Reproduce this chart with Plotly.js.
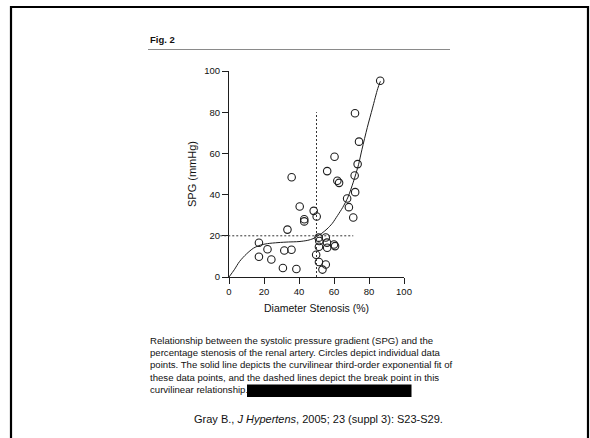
<!DOCTYPE html>
<html>
<head>
<meta charset="utf-8">
<script src="https://cdn.plot.ly/plotly-3.0.1.min.js"></script>
<style>html,body{margin:0;padding:0;background:#fff;}#chart{width:590px;height:438px;}</style>
</head>
<body>
<div id="chart"></div>
<script>
// ---- data ----
const stenosis = [86.4, 72.0, 74.3, 73.5, 71.8, 72.1, 67.5, 68.5, 71.0, 60.3,
                  56.1, 61.9, 62.9, 35.8, 40.4, 43.0, 43.0, 48.4, 50.1, 33.4,
                  17.1, 17.1, 22.0, 24.2, 30.8, 38.5, 31.6, 35.7, 51.2, 51.6,
                  51.4, 49.8, 51.4, 53.4, 55.3, 55.3, 56.0, 56.1, 60.0, 60.6];
const spg      = [95.3, 79.5, 65.7, 54.8, 49.3, 41.2, 38.1, 33.9, 28.9, 58.4,
                  51.4, 46.7, 45.7, 48.4, 34.2, 28.0, 27.0, 32.1, 29.4, 23.0,
                  16.6, 9.8, 13.5, 8.5, 4.4, 3.9, 12.9, 13.2, 19.1, 17.5,
                  14.7, 10.8, 7.3, 3.6, 6.1, 19.2, 16.7, 14.2, 15.8, 15.0];
const fitX = [0, 3, 6, 10, 14, 18, 22, 28, 34, 40, 45, 48, 50, 53, 56, 59, 62, 65, 68, 71, 74, 76, 79, 82, 85, 86.5];
const fitY = [0, 3.5, 7.5, 11.2, 14, 15.5, 16.2, 16.7, 17, 17.2, 17.8, 18.6, 19.6, 21.2, 23.3, 26, 29.8, 33.8, 38.8, 46, 54.5, 62, 72.5, 82, 91.5, 95];
const breakX = 50, breakY = 20;
const vDashTop = 80, hDashStart = -5, hDashEnd = 71;
const xTicks = [0, 20, 40, 60, 80, 100];
const yTicks = [0, 20, 40, 60, 80, 100];
const captionLines = [
  "Relationship between the systolic pressure gradient (SPG) and the",
  "percentage stenosis of the renal artery. Circles depict individual data",
  "points. The solid line depicts the curvilinear third-order exponential fit of",
  "these data points, and the dashed lines depict the break point in this",
  "curvilinear relationship."
];
const figLabel = "Fig. 2";
const citation = "Gray B., <i>J Hypertens</i>, 2005; 23 (suppl 3): S23-S29.";

// ---- layout geometry ----
const W = 590, H = 438, ML = 229, MR = 186, MT = 71, MB = 161;
const PW = W - ML - MR, PH = H - MT - MB;
const xRange = [0, 100], yRange = [0, 100];
const px = p => (p - ML) / PW;
const py = p => (H - MB - p) / PH;
const dx = v => (v - xRange[0]) / (xRange[1] - xRange[0]);
const dy = v => (v - yRange[0]) / (yRange[1] - yRange[0]);

const ink = '#1e1e1e';
const font = 'Liberation Sans, Arial, sans-serif';

const traces = [
  {x: fitX, y: fitY, type: 'scatter', mode: 'lines', line: {color: ink, width: 1, shape: 'spline', smoothing: 0.8}, hoverinfo: 'skip'},
  {x: stenosis, y: spg, type: 'scatter', mode: 'markers', cliponaxis: false,
   marker: {symbol: 'circle-open', size: 7.5, color: ink, line: {width: 1.1, color: ink}}}
];

const annotations = [
  {xref: 'paper', yref: 'paper', x: px(148), y: py(39.5), xanchor: 'left', yanchor: 'middle', showarrow: false,
   text: '<b>' + figLabel + '</b>', font: {family: font, size: 9.5, color: '#111'}},
  {xref: 'paper', yref: 'paper', x: px(318), y: py(419), xanchor: 'center', yanchor: 'middle', showarrow: false,
   text: citation, font: {family: font, size: 11, color: '#111'}}
];
const lineYs = [340, 352.3, 364.6, 377.2, 389.8];
captionLines.forEach((t, i) => annotations.push({
  xref: 'paper', yref: 'paper', x: px(148), y: py(lineYs[i]), xanchor: 'left', yanchor: 'middle', showarrow: false,
  text: t, font: {family: font, size: 9.6, color: '#111'}
}));

const shapes = [
  // frame
  {type: 'rect', xref: 'paper', yref: 'paper', x0: px(11), x1: px(588), y0: py(7), y1: py(446), line: {color: '#000', width: 2.2}},
  // rule under "Fig. 2"
  {type: 'line', xref: 'paper', yref: 'paper', x0: px(148), x1: px(450), y0: py(49.5), y1: py(49.5), line: {color: '#8a8a8a', width: 1}},
  // redaction box
  {type: 'rect', xref: 'paper', yref: 'paper', x0: px(247), x1: px(411.5), y0: py(384.5), y1: py(397), fillcolor: '#000', line: {width: 0}},
  // break point dashed lines
  {type: 'line', xref: 'paper', yref: 'paper', x0: dx(breakX), x1: dx(breakX), y0: dy(0), y1: dy(vDashTop), line: {color: '#333', width: 1, dash: '2px,2px'}},
  {type: 'line', xref: 'paper', yref: 'paper', x0: dx(hDashStart), x1: dx(hDashEnd), y0: dy(breakY), y1: dy(breakY), line: {color: '#333', width: 1, dash: '2px,2px'}}
];

const axisCommon = {
  showgrid: false, zeroline: false, showline: true, linecolor: ink, linewidth: 1,
  ticks: 'outside', ticklen: 6, tickwidth: 1, tickcolor: ink,
  tickfont: {family: font, size: 9.5, color: '#111'}, tickmode: 'array', fixedrange: true
};

const layout = {
  width: W, height: H, margin: {l: ML, r: MR, t: MT, b: MB},
  paper_bgcolor: '#fff', plot_bgcolor: '#fff', showlegend: false,
  xaxis: Object.assign({}, axisCommon, {range: xRange, tickvals: xTicks,
    title: {text: 'Diameter Stenosis (%)', font: {family: font, size: 10.5, color: '#111'}, standoff: 8}}),
  yaxis: Object.assign({}, axisCommon, {range: yRange, tickvals: yTicks,
    title: {text: 'SPG (mmHg)', font: {family: font, size: 11, color: '#111'}, standoff: 5}}),
  annotations: annotations, shapes: shapes
};

Plotly.newPlot('chart', traces, layout, {staticPlot: true, displayModeBar: false});
</script>
</body>
</html>
